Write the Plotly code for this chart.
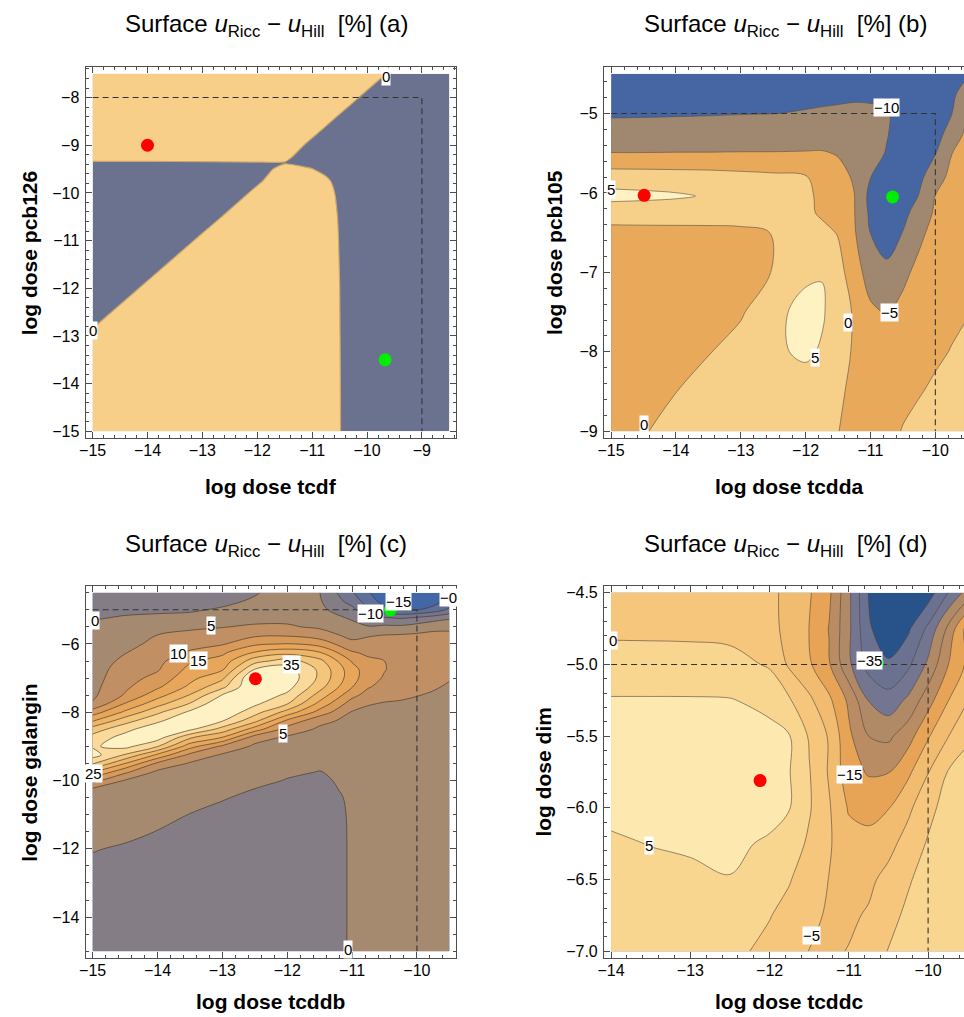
import numpy as np
import plotly.graph_objects as go

W, H = 964, 1017
FONT = "Liberation Sans, Arial, sans-serif"

# ---------------- panel (a): tcdf (x) vs pcb126 (y) ----------------
xa = [-15, -14, -13, -12, -11.5, -11, -10.75, -10.5, -10.25, -10, -9.5, -9, -8.5]
ya = [-15, -14, -13, -12, -11, -10.5, -10, -9.75, -9.5, -9.37, -9.25, -9, -8.5, -8, -7.5]
za = [
    [1.52, 2.23, 2.52, 1.52, 1.02, 0.52, 0.27, 0.016, -0.22, -0.47, -0.97, -1.47, -1.97],
    [0.81, 1.52, 2.23, 1.51, 1.01, 0.51, 0.26, 0.013, -0.22, -0.47, -0.97, -1.47, -1.97],
    [0.11, 0.81, 1.52, 1.51, 1.01, 0.51, 0.26, 0.008, -0.22, -0.47, -0.97, -1.47, -1.97],
    [-0.60, 0.11, 0.81, 1.50, 1.0, 0.50, 0.25, 0.002, -0.22, -0.47, -0.97, -1.47, -1.97],
    [-1.31, -0.60, 0.11, 0.81, 0.98, 0.48, 0.23, -0.018, -0.22, -0.47, -0.97, -1.47, -1.97],
    [-1.14, -0.95, -0.25, 0.46, 0.81, 0.46, 0.21, -0.039, -0.22, -0.47, -0.97, -1.47, -1.97],
    [-0.64, -0.64, -0.60, 0.11, 0.46, 0.41, 0.16, -0.09, -0.22, -0.47, -0.97, -1.47, -1.97],
    [-0.39, -0.39, -0.38, -0.07, 0.28, 0.26, 0.085, -0.165, -0.22, -0.47, -0.97, -1.47, -1.97],
    [-0.14, -0.14, -0.13, -0.11, 0.08, 0.009, -0.126, -0.2, -0.22, -0.47, -0.97, -1.47, -1.97],
    [-0.03, -0.03, -0.025, -0.015, -0.014, -0.12, -0.15, -0.2, -0.22, -0.47, -0.97, -1.47, -1.97],
    [0.09, 0.09, 0.09, 0.09, 0.07, -0.2, -0.09, -0.09, -0.22, -0.47, -0.97, -1.47, -1.97],
    [0.34, 0.34, 0.34, 0.34, 0.25, -0.11, -0.28, -0.34, -0.34, -0.47, -0.97, -1.47, -1.87],
    [0.84, 0.84, 0.84, 0.84, 0.60, 0.25, 0.07, -0.11, -0.28, -0.46, -0.81, -1.17, -1.52],
    [1.34, 1.34, 1.34, 1.31, 0.95, 0.60, 0.42, 0.25, 0.07, -0.11, -0.46, -0.81, -1.17],
    [1.84, 1.84, 1.84, 1.66, 1.31, 0.95, 0.78, 0.60, 0.42, 0.25, -0.11, -0.46, -0.81],
]

# ---------------- panel (b): tcdda (x) vs pcb105 (y) ----------------
xb = [-15, -14.5, -14, -13.5, -13, -12.5, -12, -11.75, -11.5, -11.25, -11, -10.75, -10.5, -10.25, -10, -9.75, -9.5]
yb = [-9, -8.5, -8, -7.5, -7, -6.5, -6.25, -6.04, -5.8, -5.5, -5.25, -5, -4.75, -4.5]
zb = [
    [-2.5, -0.3, 1.5, 2.5, 3.0, 3.0, 2.5, 1.5, 0.1, -1.5, -2.5, -1.8, 0.3, 1.5, 2.5, 3.0, 3.3],
    [-3.0, -1.5, -0.05, 1.5, 2.5, 3.2, 2.8, 1.8, 0.6, -0.8, -2.2, -2.8, -1.5, -0.3, 0.8, 1.8, 2.5],
    [-3.0, -2.2, -1.2, -0.2, 1.8, 4.2, 5.8, 4.5, 1.8, -0.5, -2.3, -3.2, -2.6, -1.8, -0.8, 0.2, 1.2],
    [-2.3, -1.8, -1.2, -0.8, -0.5, 3.3, 7.0, 5.6, 2.5, -0.5, -4.2, -5.4, -3.8, -2.8, -1.8, -1.0, -0.2],
    [-2.0, -1.6, -1.2, -0.9, -0.6, 0.05, 3.8, 4.8, 2.0, -3.0, -7.0, -9.0, -6.0, -3.8, -2.6, -1.6, -0.8],
    [-1.3, -1.2, -1.1, -1.0, -0.8, 0.1, 2.5, 1.5, -0.3, -4.5, -10.1, -12.0, -9.9, -6.0, -3.5, -2.6, -1.8],
    [2.0, 2.0, 1.9, 1.8, 1.8, 1.8, 1.2, -0.8, -2.5, -4.8, -11.0, -13.0, -11.0, -8.5, -4.2, -3.0, -2.2],
    [6.5, 6.1, 5.6, 4.6, 3.5, 3.0, 1.0, -1.0, -3.0, -4.9, -11.5, -14.0, -13.0, -9.8, -4.9, -3.8, -3.0],
    [2.5, 2.4, 2.2, 2.0, 1.5, 1.0, 0.3, -1.5, -3.5, -5.5, -9.9, -13.5, -14.0, -11.0, -7.5, -3.5, -3.0],
    [-4.9, -4.9, -4.85, -4.85, -4.8, -4.8, -4.7, -4.6, -5.3, -7.0, -8.8, -10.2, -12.5, -12.0, -10.2, -5.1, -3.5],
    [-8.0, -8.0, -7.9, -7.8, -7.6, -7.5, -7.5, -7.6, -7.8, -8.3, -9.0, -9.8, -11.5, -12.5, -12.0, -8.0, -3.8],
    [-10.6, -10.5, -10.4, -10.3, -10.15, -10.05, -9.8, -9.7, -9.6, -9.5, -9.6, -9.8, -10.8, -12.5, -12.0, -10.2, -4.6],
    [-11.5, -11.4, -11.3, -11.2, -11.1, -11.0, -10.8, -10.6, -10.5, -10.4, -10.4, -10.6, -11.5, -12.8, -12.5, -11.5, -6.5],
    [-12.5, -12.4, -12.3, -12.2, -12.1, -12.0, -11.8, -11.6, -11.5, -11.4, -11.4, -11.6, -12.5, -13.5, -13.0, -12.0, -10.8],
]

# ---------------- panel (c): tcddb (x) vs galangin (y) ----------------
xc = [-15, -14.5, -14, -13.5, -13, -12.5, -12, -11.5, -11, -10.75, -10.5, -10.25, -10, -9.75, -9.5]
yc = [-15, -14, -13, -12, -11.5, -11, -10.5, -10.25, -10, -9.75, -9.5, -9.25, -9, -8.75, -8.5, -8.25,
      -8, -7.75, -7.5, -7.25, -7, -6.75, -6.5, -6.25, -6, -5.75, -5.5, -5.25, -5, -4.75, -4.5]
# one list per x column, values listed from the bottom (y=-15) to the top (y=-4.5)
zc_cols = [
    [-3.0, -2.5, -1.5, 0.2, 1.5, 2.5, 3.5, 4.2, 11.8, 20.5, 30.7, 37, 34.5, 32, 27.5, 19.5, 12.5, 5.5, 4.0, 3.6, 3.2, 2.9, 2.6, 2.2, 1.8, 1.2, 0.6, -0.2, -1.0, -1.6, -2.2],
    [-3.5, -2.8, -1.6, -0.4, 0.8, 2.0, 3.2, 3.8, 4.6, 11, 20, 29.5, 36.5, 37, 33.5, 28, 21, 15.3, 10.5, 9.0, 8.0, 7.2, 6.0, 4.8, 3.6, 2.5, 1.5, 0.3, -0.6, -1.2, -1.8],
    [-3.8, -3.0, -1.8, -0.8, -0.1, 1.2, 2.4, 3.2, 3.5, 4.0, 9.0, 19, 30.3, 37, 38.5, 34, 29, 23, 18, 14, 11.5, 9.5, 8.4, 7.3, 6.2, 5.1, 3.5, 1.2, -1.0, -1.8, -2.5],
    [-4.0, -3.2, -2.0, -1.0, -0.5, -0.1, 1.5, 2.4, 3.2, 3.9, 4.5, 8.7, 17, 25.5, 36, 39.5, 36, 30.3, 25.3, 21, 18.5, 16.5, 14.5, 10.5, 8.5, 6.2, 4.2, 1.2, -0.5, -1.3, -2.0],
    [-4.2, -3.4, -2.2, -1.3, -0.8, -0.4, 0.1, 1.2, 2.2, 3.0, 3.7, 4.4, 9.0, 19.5, 28, 35.3, 39, 39.5, 35.3, 28.5, 24, 19.5, 17, 14, 9.5, 7.3, 4.8, 2.5, 0.5, -1.0, -1.8],
    [-4.4, -3.6, -2.5, -1.6, -1.1, -0.7, -0.3, -0.05, 1.0, 1.9, 2.7, 3.4, 4.1, 7.0, 17.5, 26.5, 32, 36, 38.5, 40.5, 41, 35.3, 28, 20.3, 14, 9.2, 5.7, 3.5, 1.8, 0.6, -0.4],
    [-4.5, -3.8, -2.7, -1.8, -1.3, -0.9, -0.6, -0.4, -0.2, 0.6, 1.6, 2.5, 3.3, 4.2, 7.8, 14, 23, 30.3, 34, 37, 38.5, 37.5, 32.5, 23, 15.3, 9.5, 5.6, 3.8, 2.8, 2.4, 2.2],
    [-4.5, -3.9, -2.9, -2.0, -1.5, -1.1, -0.8, -0.6, -0.4, -0.1, 0.7, 1.7, 2.6, 3.4, 4.2, 6.2, 13, 18.5, 23, 27, 29, 29, 26.5, 20.3, 13, 7.7, 4.2, 2.5, 1.2, 0.5, 0.1],
    [0.86, 0.74, 0.55, 0.38, 0.29, 0.25, 0.3, 0.45, 0.6, 0.9, 1.4, 1.8, 2.2, 2.7, 3.2, 3.8, 4.6, 7.5, 11.5, 15.3, 17, 17, 14.5, 10.5, 6.5, 3.5, 1.5, -0.5, -3.5, -7, -9.5],
    [1.1, 1.0, 0.95, 0.9, 1.0, 1.1, 1.3, 1.5, 1.6, 1.8, 2.0, 2.3, 2.6, 2.9, 3.2, 3.6, 4.0, 5.3, 8.0, 10.5, 12, 12.3, 11, 9, 6.8, 4.6, 0.5, -4.5, -9.2, -12.5, -14.5],
    [1.2, 1.3, 1.4, 1.5, 1.6, 1.7, 1.9, 2.0, 2.2, 2.4, 2.6, 2.8, 3.0, 3.2, 3.5, 3.7, 3.9, 4.7, 6.3, 8.2, 9.5, 10.2, 10.0, 9.0, 7.3, 5.2, 1.0, -4.0, -13.5, -17, -19],
    [1.6, 1.7, 1.8, 1.9, 2.0, 2.1, 2.3, 2.4, 2.6, 2.8, 3.0, 3.1, 3.3, 3.4, 3.6, 3.8, 4.2, 4.6, 5.6, 6.8, 7.8, 8.4, 8.6, 8.2, 7.3, 5.5, 1.0, -5.2, -15.5, -19.5, -22],
    [2.0, 2.1, 2.2, 2.3, 2.4, 2.5, 2.6, 2.7, 2.8, 3.0, 3.2, 3.4, 3.6, 3.8, 4.0, 4.2, 4.3, 4.4, 5.1, 5.9, 6.6, 7.2, 7.6, 7.6, 7.2, 5.9, 2.0, -3.5, -15.3, -19.5, -22],
    [2.2, 2.3, 2.4, 2.5, 2.6, 2.7, 2.8, 2.9, 3.0, 3.2, 3.4, 3.6, 3.8, 4.0, 4.2, 4.3, 4.4, 4.5, 4.7, 5.3, 5.9, 6.5, 6.9, 7.1, 7.0, 6.3, 3.5, -2.0, -13, -17.5, -20],
    [2.4, 2.5, 2.6, 2.7, 2.8, 2.9, 3.0, 3.1, 3.3, 3.5, 3.7, 3.9, 4.0, 4.1, 4.2, 4.3, 4.3, 4.4, 4.4, 4.7, 5.2, 5.8, 6.3, 6.6, 6.6, 6.0, 4.0, -0.5, -9, -13, -16],
]
zc = np.array(zc_cols).T

# ---------------- panel (d): tcddc (x) vs dim (y) ----------------
xd = [-14, -13.5, -13, -12.5, -12, -11.75, -11.5, -11.25, -11, -10.75, -10.5, -10.25, -10, -9.75, -9.5]
yd = [-7, -6.75, -6.5, -6.25, -6, -5.75, -5.5, -5.25, -5, -4.75, -4.5]
zd = [
    [2.5, 2.3, 2.0, 1.2, -1.2, -3.0, -5.1, -5.8, -4.8, -2.5, 0.2, 2.3, 3.8, 4.5, 4.8],
    [2.8, 2.7, 2.6, 2.5, 0.2, -1.5, -4.0, -5.5, -5.8, -4.5, -1.5, 1.0, 3.0, 4.0, 4.5],
    [3.5, 3.9, 4.2, 4.9, 2.5, 0.3, -2.5, -5.1, -6.5, -6.0, -3.5, -0.5, 2.0, 3.5, 4.2],
    [4.5, 5.1, 5.5, 5.6, 4.6, 2.5, -0.8, -4.5, -8.0, -8.5, -6.5, -3.0, 0.5, 3.0, 4.0],
    [5.9, 6.3, 6.6, 6.6, 6.0, 5.2, 0.5, -4.5, -10.5, -11.5, -10.2, -6.0, -1.5, 2.0, 3.5],
    [6.8, 7.0, 7.2, 7.2, 6.6, 5.2, 0.3, -5.5, -13.0, -15.5, -15.2, -11.0, -5.2, 0.2, 2.5],
    [6.5, 6.6, 6.7, 6.6, 6.0, 5.2, -0.5, -5.5, -14.0, -20.0, -21.0, -17.0, -10.5, -5.2, -1.0],
    [5.3, 5.3, 5.3, 5.2, 4.0, 0.5, -4.0, -9.0, -16.0, -25.2, -28.0, -24.0, -17.0, -10.2, -5.2],
    [2.5, 2.5, 2.4, 2.0, -0.6, -5.8, -9.3, -14.5, -24.0, -32.0, -34.5, -31.0, -24.0, -15.2, -9.0],
    [-1.2, -1.3, -1.4, -1.8, -3.5, -6.5, -10.1, -15.2, -24.0, -34.5, -37.5, -35.8, -29.0, -19.0, -8.0],
    [-2.5, -2.6, -2.8, -3.0, -4.0, -6.2, -9.5, -14.0, -24.0, -35.2, -38.5, -39.5, -37.5, -30.0, -23.0],
]

# contour levels and band colours (lowest band first)
levels = {"a": (0, 0.5, 1), "b": (-10, 5, 5), "c": (-15, 35, 5), "d": (-35, 5, 5)}
band_colors = {
    "a": ["#6B7290", "#F7CF88"],
    "b": ["#4566A3", "#A08870", "#E8A95B", "#F6CF88", "#FEF2C2"],
    "c": ["#4367A6", "#5E6F99", "#74768F", "#847D86", "#A68A70", "#C08F64",
          "#D89A5B", "#E7A65A", "#EEB568", "#F4C67C", "#FAD99A", "#FEF2C4"],
    "d": ["#27528A", "#6B7190", "#747590", "#B08966", "#B98C63", "#E8A456",
          "#F1BB70", "#F5C67C", "#F9D690", "#FDE9B0"],
}
line_colors = {"a": "#C9A66B", "b": "rgba(90,80,70,0.6)", "c": "rgba(70,55,40,0.65)", "d": "rgba(80,70,60,0.6)"}
smooth = {"a": 0.5, "b": 1.0, "c": 1.0, "d": 1.0}

# reference (dashed) lines and points
dash_x = {"a": [-15, -9, -9], "b": [-15, -10, -10], "c": [-15, -10, -10], "d": [-14, -10, -10]}
dash_y = {"a": [-8, -8, -15], "b": [-5, -5, -9], "c": [-5, -5, -15], "d": [-5, -5, -7]}
red_pt = {"a": (-14.0, -9.0), "b": (-14.49, -6.03), "c": (-12.49, -7.02), "d": (-12.12, -5.81)}
green_pt = {"a": (-9.67, -13.5), "b": (-10.66, -6.05), "c": (-10.41, -5.0), "d": (-10.64, -4.99)}

# contour labels (text, x, y)
clabels = {
    "a": [("0", -9.66, -7.55), ("0", -14.99, -12.88)],
    "b": [("\u221210", -10.75, -4.92), ("\u22125", -10.71, -7.51), ("0", -11.34, -7.63),
          ("5", -11.86, -8.07), ("0", -14.5, -8.92), ("5", -15.0, -5.96), ("0", -9.5, -7.77)],
    "c": [("0", -14.97, -5.32), ("5", -13.17, -5.46), ("10", -13.68, -6.29), ("15", -13.37, -6.49),
          ("35", -11.94, -6.61), ("5", -12.06, -8.63), ("25", -14.98, -9.78), ("0", -11.07, -14.94),
          ("\u221210", -10.71, -5.1), ("\u221215", -10.28, -4.76), ("\u22120", -9.52, -4.63)],
    "d": [("0", -13.97, -4.83), ("\u221235", -10.74, -4.97), ("\u221215", -10.99, -5.77),
          ("5", -13.52, -6.26), ("\u22125", -11.47, -6.89), ("\u221225", -9.45, -4.5),
          ("\u221215", -9.45, -4.9), ("0", -9.5, -5.6)],
}

names = {"a": ("log dose tcdf", "log dose pcb126"), "b": ("log dose tcdda", "log dose pcb105"),
         "c": ("log dose tcddb", "log dose galangin"), "d": ("log dose tcddc", "log dose dim")}

data = {"a": (xa, ya, za), "b": (xb, yb, zb), "c": (xc, yc, zc), "d": (xd, yd, zd)}

# layout geometry (pixels of the 964x1017 page)
frame_px = {  # left, right, top, bottom
    "a": (80, 453.3, 65.7, 438.3),
    "b": (601.7, 964, 65.7, 438.3),
    "c": (80, 453.3, 585.7, 959.3),
    "d": (601.7, 964, 585.7, 959.3),
}
xranges = {"a": [-15.13, -8.37], "b": [-15.11, -9.558], "c": [-15.11, -9.39], "d": [-14.09, -9.547]}
yranges = {"a": [-15.15, -7.35], "b": [-9.09, -4.41], "c": [-15.21, -4.29], "d": [-7.05, -4.45]}
ydticks = {"a": (1, 0.2), "b": (1, 0.2), "c": (2, 0.5), "d": (0.5, 0.1)}
title_center = {"a": 262, "b": 784, "c": 262, "d": 784}
title_y = {"a": 25, "b": 25, "c": 546, "d": 546}
xtitle_y = {"a": 486, "b": 486, "c": 1002, "d": 1002}
ytitle_x = {"a": 24, "b": 552, "c": 24, "d": 541}

fig = go.Figure()
layout = dict(width=W, height=H, margin=dict(l=0, r=0, t=0, b=0), paper_bgcolor="white",
              plot_bgcolor="white", showlegend=False, annotations=[])

AXC = "#4d4d4d"
for i, k in enumerate(["a", "b", "c", "d"]):
    n = "" if i == 0 else str(i + 1)
    xs, ys, zs = data[k]
    st, en, sz = levels[k]
    cols = band_colors[k]
    nb = len(cols)
    cscale = [[j / (nb - 1), c] for j, c in enumerate(cols)]
    fig.add_trace(go.Contour(
        x=xs, y=ys, z=zs, xaxis="x" + n, yaxis="y" + n,
        autocontour=False, contours=dict(start=st, end=en, size=sz, coloring="fill", showlines=True),
        colorscale=cscale, showscale=False, hoverinfo="skip",
        line=dict(color=line_colors[k], width=1.2 if k == "a" else 1, smoothing=smooth[k]),
    ))
    fig.add_trace(go.Scatter(x=dash_x[k], y=dash_y[k], mode="lines", xaxis="x" + n, yaxis="y" + n,
                             line=dict(color="#333333", width=1.1, dash="6px,4px"), hoverinfo="skip"))
    fig.add_trace(go.Scatter(x=[red_pt[k][0]], y=[red_pt[k][1]], mode="markers", xaxis="x" + n, yaxis="y" + n,
                             marker=dict(color="#FF0000", size=13), hoverinfo="skip"))
    fig.add_trace(go.Scatter(x=[green_pt[k][0]], y=[green_pt[k][1]], mode="markers", xaxis="x" + n, yaxis="y" + n,
                             marker=dict(color="#00EE00", size=13), hoverinfo="skip"))

    l, r, t, b = frame_px[k]
    cropped = k in ("b", "d")
    xdom = [l / W, min(r / W, 1.0)]
    ydom = [1 - b / H, 1 - t / H]
    tickfont = dict(family=FONT, size=16, color="black")
    layout["xaxis" + n] = dict(
        domain=xdom, range=xranges[k], anchor="y" + n, showgrid=False, zeroline=False,
        showline=True, linecolor=AXC, linewidth=1, mirror="allticks", ticks="inside", ticklen=6,
        tickcolor=AXC, dtick=1, tick0=0, tickfont=tickfont, ticklabelstandoff=-3,
        minor=dict(dtick=0.2, tick0=0, ticks="inside", ticklen=3, tickcolor=AXC, showgrid=False),
        fixedrange=True)
    yd_major, yd_minor = ydticks[k]
    layout["yaxis" + n] = dict(
        domain=ydom, range=yranges[k], anchor="x" + n, showgrid=False, zeroline=False,
        showline=True, linecolor=AXC, linewidth=1, mirror=(False if cropped else "allticks"),
        ticks="inside", ticklen=6, tickcolor=AXC, dtick=yd_major, tick0=0, tickfont=tickfont,
        tickformat=(".1f" if k == "d" else None), ticklabelstandoff=2,
        minor=dict(dtick=yd_minor, tick0=0, ticks="inside", ticklen=3, tickcolor=AXC, showgrid=False),
        fixedrange=True)

    layout["annotations"].append(dict(
        xref="paper", yref="paper", x=title_center[k] / W, y=1 - title_y[k] / H, xanchor="center", yanchor="middle",
        showarrow=False, font=dict(family=FONT, size=24, color="black"),
        text="Surface <i>u</i><sub>Ricc</sub> \u2212 <i>u</i><sub>Hill</sub>  [%] (" + k + ")"))
    layout["annotations"].append(dict(
        xref="paper", yref="paper", x=((l + (l + 373.3)) / 2) / W, y=1 - xtitle_y[k] / H,
        xanchor="center", yanchor="middle", showarrow=False,
        font=dict(family=FONT, size=21, color="black"), text="<b>" + names[k][0] + "</b>"))
    layout["annotations"].append(dict(
        xref="paper", yref="paper", x=ytitle_x[k] / W, y=1 - ((t + b) / 2) / H,
        xanchor="center", yanchor="middle", textangle=-90, showarrow=False,
        font=dict(family=FONT, size=21, color="black"), text="<b>" + names[k][1] + "</b>"))
    for txt, lx, ly in clabels[k]:
        layout["annotations"].append(dict(
            xref="x" + n, yref="y" + n, x=lx, y=ly, text=txt, showarrow=False,
            font=dict(family=FONT, size=15, color="black"), bgcolor="white", borderpad=0,
            xanchor="center", yanchor="middle"))

fig.update_layout(**layout)
fig.write_html("out.html", config={"displayModeBar": False},
               post_script="document.body.style.margin='0px';document.body.style.overflow='hidden';")
